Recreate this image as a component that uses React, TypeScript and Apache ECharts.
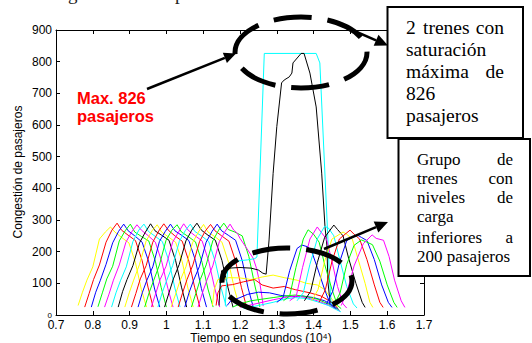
import React, { useEffect, useRef } from "react";
import * as echarts from "echarts";

type Pt = [number, number];

// Axis ranges and ticks (time in 10^4 s, load in passengers)
const X_MIN = 0.7;
const X_MAX = 1.7;
const X_STEP = 0.1;
const Y_MIN = 0;
const Y_MAX = 900;
const Y_STEP = 100;

// MATLAB-style colour order used for the trains
const C = {
  y: "#ffff00",
  r: "#ff0000",
  b: "#0000ff",
  g: "#00ff00",
  m: "#ff00ff",
  c: "#00ffff",
  k: "#000000",
};

// First wave of trains (morning peak, ~290 passengers each)
const w1_01: Pt[] = [[0.760, 30], [0.772, 72], [0.784, 110], [0.800, 152], [0.818, 240], [0.834, 262], [0.848, 278], [0.860, 262], [0.878, 245], [0.898, 228], [0.916, 165], [0.932, 80], [0.946, 25]];
const w1_02: Pt[] = [[0.778, 25], [0.790, 68], [0.802, 112], [0.818, 158], [0.836, 230], [0.852, 268], [0.866, 290], [0.878, 268], [0.896, 252], [0.916, 235], [0.934, 172], [0.950, 88], [0.964, 25]];
const w1_03: Pt[] = [[0.796, 25], [0.808, 72], [0.820, 108], [0.836, 160], [0.854, 228], [0.870, 264], [0.884, 287], [0.896, 266], [0.914, 250], [0.934, 230], [0.952, 168], [0.968, 82], [0.982, 25]];
const w1_04: Pt[] = [[0.814, 26], [0.826, 70], [0.838, 114], [0.854, 154], [0.872, 234], [0.888, 266], [0.902, 287], [0.914, 262], [0.932, 248], [0.952, 234], [0.970, 170], [0.986, 86], [1.000, 25]];
const w1_05: Pt[] = [[0.832, 25], [0.844, 66], [0.856, 110], [0.872, 158], [0.890, 230], [0.906, 263], [0.920, 285], [0.932, 268], [0.950, 251], [0.970, 230], [0.988, 166], [1.004, 84], [1.018, 25]];
const w1_06: Pt[] = [[0.851, 25], [0.863, 70], [0.875, 108], [0.891, 152], [0.909, 232], [0.925, 268], [0.939, 287], [0.951, 264], [0.969, 249], [0.989, 232], [1.007, 170], [1.023, 85], [1.037, 25]];
const w1_07: Pt[] = [[0.869, 25], [0.881, 74], [0.893, 112], [0.909, 156], [0.927, 228], [0.943, 262], [0.957, 288], [0.969, 266], [0.987, 252], [1.007, 236], [1.025, 172], [1.041, 88], [1.055, 25]];
const w1_08: Pt[] = [[0.887, 25], [0.899, 70], [0.911, 110], [0.927, 160], [0.945, 234], [0.961, 266], [0.975, 285], [0.987, 262], [1.005, 247], [1.025, 230], [1.043, 168], [1.059, 82], [1.073, 25]];
const w1_09: Pt[] = [[0.905, 25], [0.917, 68], [0.929, 114], [0.945, 156], [0.963, 230], [0.979, 265], [0.993, 288], [1.005, 268], [1.023, 250], [1.043, 233], [1.061, 170], [1.077, 86], [1.091, 25]];
const w1_10: Pt[] = [[0.923, 25], [0.935, 72], [0.947, 110], [0.963, 152], [0.981, 232], [0.997, 264], [1.011, 287], [1.023, 266], [1.041, 252], [1.061, 235], [1.079, 172], [1.095, 84], [1.109, 25]];
const w1_11: Pt[] = [[0.941, 25], [0.953, 70], [0.965, 108], [0.981, 158], [0.999, 236], [1.015, 268], [1.029, 285], [1.041, 262], [1.059, 248], [1.079, 231], [1.097, 166], [1.113, 82], [1.127, 25]];
const w1_12: Pt[] = [[0.959, 25], [0.971, 68], [0.983, 112], [0.999, 154], [1.017, 230], [1.033, 262], [1.047, 288], [1.059, 268], [1.077, 251], [1.097, 234], [1.115, 170], [1.131, 86], [1.145, 25]];
const w1_13: Pt[] = [[0.977, 25], [0.989, 72], [1.001, 110], [1.017, 156], [1.035, 232], [1.051, 266], [1.065, 287], [1.077, 264], [1.095, 250], [1.115, 232], [1.133, 168], [1.149, 84], [1.163, 25]];
const w1_14: Pt[] = [[0.995, 25], [1.007, 70], [1.019, 114], [1.035, 160], [1.053, 234], [1.069, 268], [1.083, 290], [1.095, 268], [1.113, 252], [1.133, 236], [1.151, 172], [1.167, 88], [1.181, 25]];
const w1_15: Pt[] = [[1.013, 25], [1.025, 66], [1.037, 108], [1.053, 152], [1.071, 228], [1.087, 262], [1.101, 286], [1.113, 262], [1.131, 248], [1.151, 230], [1.169, 166], [1.185, 82], [1.199, 25]];
const w1_16: Pt[] = [[1.032, 25], [1.044, 70], [1.056, 112], [1.072, 158], [1.090, 232], [1.106, 266], [1.120, 286], [1.132, 266], [1.150, 250], [1.170, 233], [1.188, 170], [1.204, 86], [1.218, 25]];
const w1_17: Pt[] = [[1.050, 25], [1.062, 72], [1.074, 110], [1.090, 154], [1.108, 230], [1.124, 264], [1.138, 287], [1.150, 266], [1.168, 252], [1.188, 236], [1.206, 172], [1.222, 85], [1.236, 25]];
const w1_18: Pt[] = [[1.068, 25], [1.080, 68], [1.092, 112], [1.108, 158], [1.126, 234], [1.142, 268], [1.156, 290], [1.168, 270], [1.186, 262], [1.206, 250], [1.224, 185], [1.240, 95], [1.254, 25]];
const w1_19: Pt[] = [[1.086, 25], [1.098, 70], [1.110, 110], [1.126, 155], [1.144, 232], [1.160, 265], [1.173, 287], [1.183, 268], [1.193, 258], [1.200, 242], [1.218, 211], [1.236, 179], [1.245, 147], [1.254, 100], [1.259, 63], [1.263, 28]];

// The two saturated trains (peak of 826 passengers)
const satBlack: Pt[] = [[1.143, 30], [1.146, 95], [1.150, 140], [1.170, 148], [1.200, 150], [1.230, 148], [1.250, 142], [1.262, 132], [1.271, 129], [1.279, 237], [1.290, 447], [1.300, 595], [1.313, 733], [1.320, 742], [1.334, 752], [1.341, 764], [1.344, 796], [1.366, 826], [1.374, 826], [1.390, 764], [1.407, 657], [1.422, 448], [1.431, 278], [1.436, 221], [1.439, 104], [1.445, 38]];
const satCyan: Pt[] = [[1.160, 30], [1.164, 110], [1.168, 162], [1.190, 170], [1.220, 174], [1.240, 178], [1.246, 183], [1.266, 826], [1.407, 826], [1.417, 796], [1.439, 237], [1.443, 120], [1.448, 30]];

// Lightly loaded trains (under 200 passengers)
const lowYellow: Pt[] = [[1.125, 30], [1.130, 80], [1.140, 112], [1.170, 118], [1.200, 117], [1.230, 112], [1.260, 120], [1.290, 126], [1.320, 118], [1.355, 110], [1.380, 100], [1.410, 95], [1.430, 80], [1.450, 50], [1.465, 25]];
const lowRed: Pt[] = [[1.135, 30], [1.140, 70], [1.150, 92], [1.180, 96], [1.210, 105], [1.240, 112], [1.260, 95], [1.290, 85], [1.320, 90], [1.350, 80], [1.390, 70], [1.420, 60], [1.450, 40], [1.465, 22]];
const lowBlue: Pt[] = [[1.165, 30], [1.175, 45], [1.200, 55], [1.220, 65], [1.250, 72], [1.280, 70], [1.310, 62], [1.340, 58], [1.370, 60], [1.400, 55], [1.430, 45], [1.455, 28], [1.468, 18]];
const lowGreen: Pt[] = [[1.180, 25], [1.200, 35], [1.230, 45], [1.260, 50], [1.290, 55], [1.320, 60], [1.350, 63], [1.380, 58], [1.410, 50], [1.440, 35], [1.460, 22], [1.470, 15]];
const lowMagenta: Pt[] = [[1.200, 25], [1.230, 32], [1.260, 40], [1.290, 48], [1.320, 55], [1.350, 60], [1.380, 55], [1.410, 45], [1.440, 32], [1.460, 20], [1.472, 12]];
const lowCyan: Pt[] = [[1.210, 20], [1.250, 30], [1.290, 40], [1.320, 50], [1.350, 55], [1.380, 52], [1.410, 42], [1.440, 30], [1.460, 18], [1.474, 10]];

// Second wave of trains (afternoon)
const w2_01: Pt[] = [[1.300, 40], [1.317, 55], [1.335, 140], [1.355, 210], [1.368, 221], [1.385, 215], [1.395, 200], [1.410, 150], [1.430, 80], [1.445, 35], [1.460, 20]];
const w2_02: Pt[] = [[1.318, 45], [1.335, 60], [1.352, 150], [1.372, 240], [1.385, 269], [1.400, 255], [1.415, 230], [1.430, 160], [1.450, 80], [1.465, 30], [1.475, 20]];
const w2_03: Pt[] = [[1.335, 45], [1.353, 60], [1.370, 150], [1.390, 240], [1.410, 278], [1.420, 262], [1.435, 240], [1.450, 170], [1.465, 90], [1.480, 35], [1.490, 22]];
const w2_04: Pt[] = [[1.355, 45], [1.372, 70], [1.390, 160], [1.410, 240], [1.430, 280], [1.440, 275], [1.455, 250], [1.470, 180], [1.490, 90], [1.508, 35], [1.518, 22]];
const w2_05: Pt[] = [[1.375, 45], [1.392, 75], [1.410, 165], [1.430, 245], [1.455, 284], [1.465, 270], [1.480, 250], [1.495, 180], [1.515, 100], [1.532, 40], [1.540, 24]];
const w2_06: Pt[] = [[1.395, 45], [1.412, 80], [1.430, 170], [1.450, 240], [1.480, 262], [1.490, 255], [1.505, 240], [1.520, 180], [1.540, 100], [1.553, 40], [1.561, 24]];
const w2_07: Pt[] = [[1.415, 40], [1.432, 80], [1.450, 170], [1.470, 240], [1.499, 268], [1.510, 255], [1.525, 240], [1.545, 175], [1.565, 95], [1.580, 40], [1.589, 24]];
const w2_08: Pt[] = [[1.435, 35], [1.452, 75], [1.470, 165], [1.490, 235], [1.518, 253], [1.530, 245], [1.545, 235], [1.565, 175], [1.585, 95], [1.603, 40], [1.613, 24]];
const w2_09: Pt[] = [[1.455, 30], [1.472, 70], [1.490, 160], [1.510, 220], [1.530, 237], [1.545, 230], [1.560, 222], [1.580, 170], [1.600, 95], [1.618, 40], [1.627, 24]];
const w2_10: Pt[] = [[1.475, 30], [1.490, 70], [1.510, 155], [1.535, 225], [1.559, 253], [1.570, 242], [1.590, 236], [1.605, 185], [1.620, 110], [1.638, 45], [1.648, 24]];

const trains: [Pt[], string][] = [
  [w1_01, C.y], [w1_02, C.r], [w1_03, C.b], [w1_04, C.g], [w1_05, C.m], [w1_06, C.c], [w1_07, C.k],
  [w1_08, C.y], [w1_09, C.r], [w1_10, C.b], [w1_11, C.g], [w1_12, C.m], [w1_13, C.c], [w1_14, C.k],
  [w1_15, C.y], [w1_16, C.r], [w1_17, C.b], [w1_18, C.g], [w1_19, C.m],
  [lowYellow, C.y], [lowRed, C.r], [lowBlue, C.b], [lowGreen, C.g], [lowMagenta, C.m], [lowCyan, C.c],
  [satCyan, C.c], [satBlack, C.k],
  [w2_01, C.b], [w2_02, C.g], [w2_03, C.m], [w2_04, C.c], [w2_05, C.k],
  [w2_06, C.y], [w2_07, C.r], [w2_08, C.b], [w2_09, C.g], [w2_10, C.m],
];

const SANS = '"Liberation Sans", Arial, Helvetica, sans-serif';
const SERIF = '"Liberation Serif", "Times New Roman", Times, serif';

function arrow(x1: number, y1: number, x2: number, y2: number, head = 12, half = 5.5, w = 2.5) {
  const dx = x2 - x1;
  const dy = y2 - y1;
  const L = Math.hypot(dx, dy);
  const ux = dx / L;
  const uy = dy / L;
  const bx = x2 - ux * head;
  const by = y2 - uy * head;
  const nx = -uy;
  const ny = ux;
  return [
    { type: "line", z: 100, shape: { x1, y1, x2: bx, y2: by }, style: { stroke: "#000", lineWidth: w } },
    {
      type: "polygon",
      z: 100,
      shape: { points: [[x2, y2], [bx + nx * half, by + ny * half], [bx - nx * half, by - ny * half]] },
      style: { fill: "#000" },
    },
  ];
}

function word(text: string, x: number, y: number, align: "left" | "right", size: number, family = SERIF) {
  return {
    type: "text",
    z: 110,
    x,
    y,
    style: { text, fill: "#000", font: `${size}px ${family}`, align, verticalAlign: "middle" },
  };
}

function dashedEllipse(cx: number, cy: number, rx: number, ry: number, offset: number) {
  return {
    type: "ellipse",
    z: 100,
    shape: { cx, cy, rx, ry },
    style: { fill: "none", stroke: "#000", lineWidth: 5, lineDash: [38, 16], lineDashOffset: offset },
  };
}

export default function App() {
  const ref = useRef<HTMLDivElement>(null);

  useEffect(() => {
    if (!ref.current) return;
    const chart = echarts.init(ref.current, undefined, { renderer: "svg" });

    const axisCommon = {
      type: "value" as const,
      axisLine: { show: true, onZero: false, lineStyle: { color: "#000", width: 1 } },
      axisTick: { show: true, inside: true, length: 4, lineStyle: { color: "#000", width: 1 } },
      splitLine: { show: false },
    };

    const b1 = [27.7, 49.7, 71.7, 93.4, 115.1];
    const b2 = [159.7, 178.7, 197.7, 216.7, 237.2, 256.7];

    chart.setOption({
      animation: false,
      backgroundColor: "#fff",
      grid: { left: 56, right: 108, top: 30, bottom: 28, containLabel: false },
      xAxis: [
        {
          ...axisCommon,
          min: X_MIN,
          max: X_MAX,
          interval: X_STEP,
          position: "bottom",
          axisLabel: {
            color: "#000",
            fontSize: 12,
            fontFamily: SANS,
            margin: 4,
            lineHeight: 12,
            formatter: (v: number) => String(+v.toFixed(1)),
          },
        },
        {
          ...axisCommon,
          min: X_MIN,
          max: X_MAX,
          interval: X_STEP,
          position: "top",
          axisLabel: { show: false },
        },
      ],
      yAxis: [
        {
          ...axisCommon,
          min: Y_MIN,
          max: Y_MAX,
          interval: Y_STEP,
          position: "left",
          axisLabel: {
            color: "#000",
            fontSize: 12,
            fontFamily: SANS,
            margin: 4,
            formatter: (v: number) => (v === 0 ? "{s|0}" : String(v)),
            rich: { s: { fontSize: 8, lineHeight: 8, fontFamily: SANS, color: "#000" } },
          },
        },
        {
          ...axisCommon,
          min: Y_MIN,
          max: Y_MAX,
          interval: Y_STEP,
          position: "right",
          axisLabel: { show: false },
        },
      ],
      series: trains.map(([data, color], i) => ({
        type: "line",
        name: `tren ${i + 1}`,
        data,
        xAxisIndex: 0,
        yAxisIndex: 0,
        showSymbol: false,
        silent: true,
        lineStyle: { color, width: 1 },
        itemStyle: { color },
      })),
      graphic: [
        // descenders of the line of text above the figure
        { type: "text", z: 90, x: 68, y: -6.5, style: { text: "g", fill: "#222", font: `19px ${SERIF}`, verticalAlign: "middle" } },
        { type: "text", z: 90, x: 175, y: -6.5, style: { text: "p", fill: "#222", font: `19px ${SERIF}`, verticalAlign: "middle" } },
        // axis titles
        {
          type: "text",
          z: 90,
          x: 18,
          y: 172,
          rotation: Math.PI / 2,
          style: { text: "Congestión de pasajeros", fill: "#000", font: `12px ${SANS}`, align: "center", verticalAlign: "middle" },
        },
        {
          type: "text",
          z: 90,
          x: 261,
          y: 337.5,
          style: { text: "Tiempo en segundos (10⁴)", fill: "#000", font: `12px ${SANS}`, lineHeight: 12, align: "center", verticalAlign: "middle" },
        },
        // red callout
        { type: "text", z: 100, x: 77, y: 97.5, style: { text: "Max. 826", fill: "#ff0000", font: `bold 16.5px ${SANS}`, verticalAlign: "middle" } },
        { type: "text", z: 100, x: 77, y: 116, style: { text: "pasajeros", fill: "#ff0000", font: `bold 16.5px ${SANS}`, verticalAlign: "middle" } },
        ...arrow(147, 89, 236, 53.5),
        // highlighted regions
        dashedEllipse(301, 52.5, 66, 35.5, 0),
        dashedEllipse(287, 281, 65, 33, 10),
        ...arrow(343, 26, 388, 45.5, 13, 6),
        ...arrow(324, 249, 388, 222, 13, 6),
        // text boxes
        {
          type: "rect",
          z: 105,
          shape: { x: 387.5, y: 7, width: 135.5, height: 131 },
          style: { fill: "#fff", stroke: "#000", lineWidth: 2 },
        },
        {
          type: "rect",
          z: 105,
          shape: { x: 398.5, y: 139, width: 131.5, height: 137 },
          style: { fill: "#fff", stroke: "#000", lineWidth: 2 },
        },
        word("2", 406, b1[0], "left", 19.5),
        word("trenes", 423, b1[0], "left", 19.5),
        word("con", 504, b1[0], "right", 19.5),
        word("saturación", 406, b1[1], "left", 19.5),
        word("máxima", 406, b1[2], "left", 19.5),
        word("de", 504, b1[2], "right", 19.5),
        word("826", 406, b1[3], "left", 19.5),
        word("pasajeros", 406, b1[4], "left", 19.5),
        word("Grupo", 417, b2[0], "left", 17),
        word("de", 513, b2[0], "right", 17),
        word("trenes", 417, b2[1], "left", 17),
        word("con", 513, b2[1], "right", 17),
        word("niveles", 417, b2[2], "left", 17),
        word("de", 513, b2[2], "right", 17),
        word("carga", 417, b2[3], "left", 17),
        word("inferiores", 417, b2[4], "left", 17),
        word("a", 513, b2[4], "right", 17),
        word("200 pasajeros", 417, b2[5], "left", 17),
      ],
    });

    return () => chart.dispose();
  }, []);

  return (
    <div
      ref={ref}
      style={{ position: "fixed", left: 0, top: 0, width: 532, height: 343, background: "#fff" }}
    />
  );
}
